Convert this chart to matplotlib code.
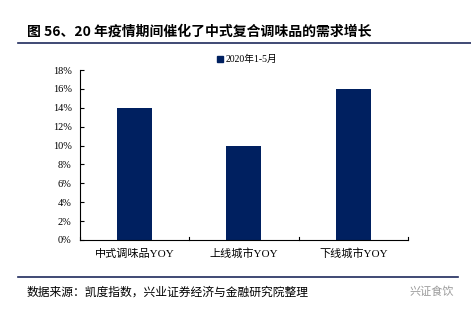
import matplotlib
matplotlib.use("Agg")
import matplotlib.pyplot as plt
from matplotlib.lines import Line2D

plt.rcParams['font.family'] = ['Liberation Serif', 'Noto Sans CJK SC', 'DejaVu Sans']

categories = ['中式调味品YOY', '上线城市YOY', '下线城市YOY']
values = [14, 10, 16]
series_name = '2020年1-5月'
yticks = [0, 2, 4, 6, 8, 10, 12, 14, 16, 18]

navy = '#002060'

fig = plt.figure(figsize=(4.71, 3.14), dpi=100)
ax = fig.add_axes([0.170, 0.236, 0.696, 0.541])

x = range(len(categories))
ax.bar(x, values, width=0.32, color=navy, label=series_name)

ax.set_xlim(-0.5, len(categories) - 0.5)
ax.set_ylim(0, 18)
ax.set_yticks(yticks)
ax.set_yticklabels([f'{v}%' for v in yticks], fontsize=7.5)
ax.set_xticks(list(x))
ax.set_xticklabels(categories, fontsize=8)
ax.tick_params(axis='x', length=0, pad=6)
ax.tick_params(axis='y', direction='in', length=3, width=0.8, pad=6)
for b in [-0.5, 0.5, 1.5, 2.5]:
    ax.plot([b, b], [0, 0.35], color='black', lw=0.8, clip_on=False)
for s in ['top', 'right']:
    ax.spines[s].set_visible(False)
ax.spines['left'].set_linewidth(0.8)
ax.spines['bottom'].set_linewidth(0.8)

handle = Line2D([], [], marker='s', color='none', markerfacecolor=navy,
                markeredgecolor=navy, markersize=4.5)
ax.legend([handle], [series_name], loc='upper center', bbox_to_anchor=(0.51, 1.14),
          frameon=False, fontsize=7, handlelength=0.6, handletextpad=0.3)

fig.text(0.057, 0.898, '图 56、20 年疫情期间催化了中式复合调味品的需求增长',
         fontsize=10, fontweight='bold', va='center', family=['Noto Sans CJK SC'])
fig.add_artist(Line2D([0.038, 1.0], [0.862, 0.862], color='#1f2a5c', lw=1.2))
fig.add_artist(Line2D([0.038, 0.973], [0.118, 0.118], color='#1f2a5c', lw=1.2))
fig.text(0.057, 0.07, '数据来源：凯度指数，兴业证券经济与金融研究院整理',
         fontsize=8.5, va='center', family=['Noto Sans CJK SC'])
fig.text(0.87, 0.07, '兴证食饮', fontsize=8, va='center', color='#999999',
         family=['Noto Sans CJK SC'])

fig.savefig('out.png', dpi=100)
